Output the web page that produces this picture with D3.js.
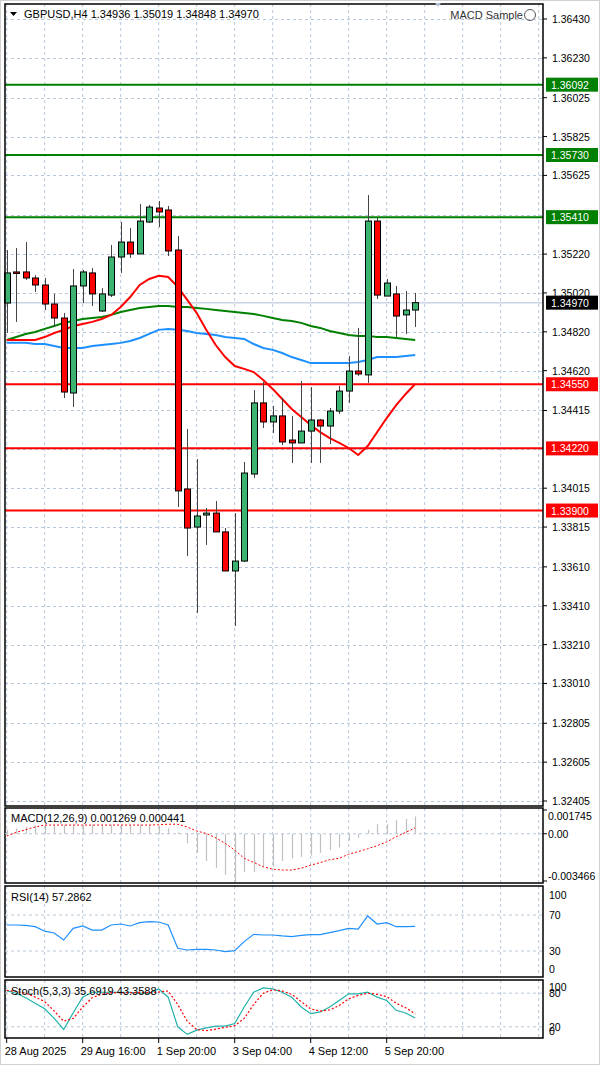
<!DOCTYPE html>
<html><head><meta charset="utf-8">
<script src="https://cdn.jsdelivr.net/npm/d3@7"></script>
<style>body{margin:0;background:#fff}svg{display:block;font-family:"Liberation Sans",Arial,sans-serif}</style>
</head><body><svg id="c" width="600" height="1065"></svg>
<script>
const opens =[1.34968,1.35128,1.35128,1.35097,1.35061,1.34963,1.34891,1.34505,1.35056,1.35123,1.34927,1.35009,1.35205,1.35282,1.35221,1.35385,1.35457,1.35447,1.35241,1.34011,1.33815,1.33877,1.33887,1.33790,1.33589,1.33640,1.34088,1.34454,1.34356,1.34387,1.34263,1.34248,1.34309,1.34366,1.34335,1.34412,1.34515,1.34618,1.34598,1.35390,1.35004,1.35015,1.34907,1.34932];
const highs =[1.35241,1.35251,1.35282,1.35112,1.35097,1.35015,1.34917,1.35143,1.35138,1.35148,1.35045,1.35267,1.35385,1.35354,1.35478,1.35473,1.35493,1.35468,1.35313,1.34320,1.34165,1.33913,1.33949,1.33810,1.33887,1.34150,1.34520,1.34562,1.34438,1.34479,1.34387,1.34567,1.34536,1.34371,1.34428,1.34541,1.34695,1.34840,1.35524,1.35406,1.35092,1.35056,1.35030,1.35020];
const lows  =[1.34814,1.34871,1.35087,1.35025,1.34932,1.34845,1.34479,1.34433,1.34968,1.34953,1.34922,1.34999,1.35123,1.35200,1.35221,1.35380,1.35359,1.35210,1.33918,1.33666,1.33373,1.33723,1.33790,1.33589,1.33306,1.33635,1.34068,1.34325,1.34299,1.34237,1.34145,1.34248,1.34145,1.34145,1.34242,1.34397,1.34454,1.34593,1.34557,1.34989,1.35004,1.34793,1.34809,1.34845];
const closes=[1.35123,1.35123,1.35097,1.35061,1.34963,1.34891,1.34510,1.35056,1.35128,1.35015,1.35015,1.35205,1.35282,1.35221,1.35390,1.35462,1.35437,1.35236,1.34001,1.33810,1.33872,1.33887,1.33790,1.33589,1.33640,1.34093,1.34454,1.34356,1.34387,1.34253,1.34248,1.34309,1.34366,1.34335,1.34412,1.34515,1.34618,1.34603,1.35390,1.35009,1.35071,1.34901,1.34932,1.34970];
const maFast=[1.34778,1.34778,1.34778,1.34778,1.34793,1.34814,1.34830,1.34850,1.34860,1.34871,1.34886,1.34907,1.34948,1.34999,1.35061,1.35092,1.35108,1.35102,1.35051,1.34984,1.34917,1.34830,1.34752,1.34690,1.34644,1.34629,1.34613,1.34572,1.34526,1.34474,1.34423,1.34381,1.34340,1.34304,1.34273,1.34248,1.34222,1.34186,1.34232,1.34304,1.34376,1.34443,1.34500,1.34551];
const maSlow=[1.34778,1.34793,1.34809,1.34819,1.34835,1.34850,1.34866,1.34876,1.34886,1.34891,1.34896,1.34907,1.34922,1.34932,1.34943,1.34948,1.34953,1.34953,1.34948,1.34948,1.34943,1.34938,1.34932,1.34927,1.34922,1.34917,1.34912,1.34902,1.34891,1.34881,1.34876,1.34866,1.34850,1.34840,1.34824,1.34814,1.34804,1.34799,1.34799,1.34793,1.34793,1.34788,1.34783,1.34778];
const maMid=[1.34763,1.34763,1.34763,1.34757,1.34757,1.34747,1.34737,1.34737,1.34737,1.34747,1.34752,1.34757,1.34763,1.34773,1.34788,1.34809,1.34830,1.34835,1.34830,1.34824,1.34814,1.34809,1.34804,1.34793,1.34788,1.34783,1.34757,1.34737,1.34727,1.34711,1.34690,1.34675,1.34659,1.34659,1.34659,1.34659,1.34659,1.34665,1.34675,1.34690,1.34690,1.34690,1.34696,1.34701];
const macdHist=[0.0003,0.0004,0.0005,0.0006,0.00065,0.00065,0.00065,0.00065,0.00065,0.00065,0.00065,0.00065,0.00065,0.00065,0.00065,0.00065,0.0006,0.0004,0.0001,-0.0007,-0.0014,-0.0020,-0.0025,-0.0030,-0.0035,-0.0028,-0.0028,-0.0024,-0.0024,-0.0020,-0.0018,-0.0017,-0.0016,-0.0014,-0.0012,-0.0010,-0.0005,-0.0003,0.0003,0.0007,0.0007,0.0010,0.0011,0.001269];
const macdSignal=[-0.00016,0.0001,0.0003,0.0005,0.00064,0.00064,0.00064,0.00064,0.00064,0.00064,0.00064,0.00064,0.00064,0.00064,0.00064,0.00064,0.00066,0.0007,0.0007,0.0005,0.0002,0.00003,-0.0003,-0.0007,-0.0012,-0.0018,-0.0021,-0.00242,-0.0026,-0.00266,-0.00266,-0.00253,-0.0023,-0.00212,-0.0019,-0.0018,-0.0015,-0.00131,-0.0011,-0.00087,-0.0006,-0.00021,0.0001,0.000441];
const rsi=[58.9,58.9,58.5,57,52,50,42.2,55.2,57.8,53.3,53.3,58.9,60,57.8,61.5,62.6,62.2,59,33,31.1,31.9,31.9,31.1,29.3,30.4,40.4,48.5,47.8,47.8,46.7,45.9,47.4,48.1,48.1,50.4,52.6,55.2,54.4,68.9,60,61.5,57,57,57.2862];
const stochMain=[84.7,80,72,62,52.3,35,15.3,45,72.9,81.7,81.7,81.7,81.7,81.7,80,80,87.6,72.9,20,6.5,14.1,18.2,21.2,21.2,25.9,55.3,81.7,89.4,87.6,81.7,72.9,55.3,43.5,46.5,55.3,67,78.8,78.8,81.7,72.9,67,49.4,44.7,35.6919];
const stochSignal=[85,83,80,73,65,48,30,35,55,72,78,81,81,81,81,81,82,84,60,30,15,13,16,19,22,35,60,80,86,84,78,65,52,48,50,58,70,76,80,78,74,62,54,43.3588];
const priceTicks=[1.36430,1.36230,1.36025,1.35825,1.35625,1.35420,1.35220,1.35020,1.34820,1.34620,1.34415,1.34215,1.34015,1.33815,1.33610,1.33410,1.33210,1.33010,1.32805,1.32605,1.32405];
const hiddenTicks=[1.35420,1.34215];
const resistLevels=[1.36092,1.35730,1.35410];
const supportLevels=[1.34550,1.34220,1.33900];
const timeLabels=["28 Aug 2025","29 Aug 16:00","1 Sep 20:00","3 Sep 04:00","4 Sep 12:00","5 Sep 20:00"];
const timeLabelIdx=[0,8,16,24,32,40];
const title="GBPUSD,H4  1.34936 1.35019 1.34848 1.34970";

const svg=d3.select("#c");
const L=5,R=543;
const x=d3.scaleLinear().domain([0,1]).range([6.7,16.2]);
const y=d3.scaleLinear().domain([1.32405,1.36430]).range([801,19]);
const GRID="#b8c8dc";
const FS=11;
svg.append("rect").attr("x",0.5).attr("y",0.5).attr("width",599).attr("height",1064).attr("fill","#fff").attr("stroke","#d0d0d0");
const panels=[{t:4,b:806},{t:808,b:883},{t:886,b:977},{t:980,b:1038}];
const vIdx=d3.range(0,57,4);
panels.forEach(p=>{
  svg.append("g").selectAll("line").data(vIdx).join("line")
   .attr("x1",d=>x(d)).attr("x2",d=>x(d)).attr("y1",p.t).attr("y2",p.b)
   .attr("stroke",GRID).attr("stroke-dasharray","3,3");
});
svg.append("g").selectAll("line").data(priceTicks).join("line")
 .attr("x1",L).attr("x2",R).attr("y1",d=>Math.round(y(d))+0.5).attr("y2",d=>Math.round(y(d))+0.5)
 .attr("stroke",GRID).attr("stroke-dasharray","3,3");
svg.append("line").attr("x1",L).attr("x2",R).attr("y1",y(closes[43])).attr("y2",y(closes[43])).attr("stroke","#c8d4e4").attr("stroke-width",1.5);
const line=d3.line().x((d,i)=>x(i)).y(d=>y(d));
svg.append("path").attr("d",line(maSlow)).attr("fill","none").attr("stroke","#008000").attr("stroke-width",2);
svg.append("path").attr("d",line(maMid)).attr("fill","none").attr("stroke","#1e90ff").attr("stroke-width",2);
svg.append("path").attr("d",line(maFast)).attr("fill","none").attr("stroke","#ff0000").attr("stroke-width",2);
resistLevels.forEach(v=>svg.append("line").attr("x1",L).attr("x2",R).attr("y1",y(v)).attr("y2",y(v)).attr("stroke","#008000").attr("stroke-width",2));
supportLevels.forEach(v=>svg.append("line").attr("x1",L).attr("x2",R).attr("y1",y(v)).attr("y2",y(v)).attr("stroke","#ff0000").attr("stroke-width",2));
const idx=d3.range(opens.length);
const cg=svg.append("g");
cg.selectAll("line").data(idx).join("line")
 .attr("x1",i=>Math.round(x(i))+0.5).attr("x2",i=>Math.round(x(i))+0.5)
 .attr("y1",i=>y(highs[i])).attr("y2",i=>y(lows[i])).attr("stroke","#444").attr("stroke-width",1);
cg.selectAll("rect").data(idx).join("rect")
 .attr("x",i=>Math.round(x(i))-2.5).attr("width",6)
 .attr("y",i=>y(Math.max(opens[i],closes[i])))
 .attr("height",i=>Math.max(1.5,Math.abs(y(opens[i])-y(closes[i]))))
 .attr("fill",i=>closes[i]>=opens[i]?"#3cb371":"#ff0000").attr("stroke","#000").attr("stroke-width",1);
const ax=svg.append("g").attr("font-size",10.5).attr("fill","#000");
priceTicks.filter(v=>!hiddenTicks.includes(v)).forEach(v=>{
  ax.append("line").attr("x1",R).attr("x2",R+4).attr("y1",y(v)).attr("y2",y(v)).attr("stroke","#000");
  ax.append("text").attr("x",552).attr("y",y(v)+4).text(v.toFixed(5));
});
function tag(v,col){
  svg.append("rect").attr("x",546).attr("y",y(v)-7).attr("width",52).attr("height",14).attr("fill",col);
  svg.append("text").attr("x",551).attr("y",y(v)+4).attr("font-size",10.5).attr("fill","#fff").text(v.toFixed(5));
}
resistLevels.forEach(v=>tag(v,"#008000"));
supportLevels.forEach(v=>tag(v,"#ff0000"));
tag(closes[43],"#000");
panels.forEach(p=>svg.append("rect").attr("x",L).attr("y",p.t).attr("width",R-L).attr("height",p.b-p.t).attr("fill","none").attr("stroke","#000").attr("stroke-width",1.5));
svg.append("path").attr("d","M10,12 L17,12 L13.5,16 Z").attr("fill","#000");
svg.append("text").attr("x",24).attr("y",18).attr("font-size",FS).text(title);
svg.append("text").attr("x",523).attr("y",19).attr("font-size",FS).attr("text-anchor","end").attr("fill","#333").text("MACD Sample");
svg.append("circle").attr("cx",530).attr("cy",15).attr("r",5.5).attr("fill","none").attr("stroke","#555");
svg.append("path").attr("d","M435,3 L441,3 L438,7 Z").attr("fill","#b0c0d8");
const ym=d3.scaleLinear().domain([-0.003466,0.001745]).range([881,810]);
svg.append("line").attr("x1",L).attr("x2",R).attr("y1",ym(0)).attr("y2",ym(0)).attr("stroke",GRID).attr("stroke-dasharray","3,3");
svg.append("g").selectAll("line").data(idx).join("line")
 .attr("x1",i=>Math.round(x(i))+0.5).attr("x2",i=>Math.round(x(i))+0.5)
 .attr("y1",ym(0)).attr("y2",i=>ym(macdHist[i])).attr("stroke","#c0c0c0").attr("stroke-width",1.2);
svg.append("path").attr("d",d3.line().x((d,i)=>x(i)).y(d=>ym(d))(macdSignal)).attr("fill","none").attr("stroke","#ff0000").attr("stroke-dasharray","2,2");
svg.append("text").attr("x",11).attr("y",822).attr("font-size",FS).text("MACD(12,26,9) 0.001269 0.000441");
[[0.001745,"0.001745",820],[0,"0.00",838],[-0.003466,"-0.003466",880]].forEach(([v,t,yy])=>{
  svg.append("line").attr("x1",R).attr("x2",R+4).attr("y1",ym(v)).attr("y2",ym(v)).attr("stroke","#000");
  svg.append("text").attr("x",548).attr("y",yy).attr("font-size",10.5).text(t);
});
const yr=d3.scaleLinear().domain([0,100]).range([978,888]);
[70,30].forEach(v=>svg.append("line").attr("x1",L).attr("x2",R).attr("y1",yr(v)).attr("y2",yr(v)).attr("stroke",GRID).attr("stroke-dasharray","3,3"));
svg.append("path").attr("d",d3.line().x((d,i)=>x(i)).y(d=>yr(d))(rsi)).attr("fill","none").attr("stroke","#1e90ff").attr("stroke-width",1.2);
svg.append("text").attr("x",11).attr("y",901).attr("font-size",FS).text("RSI(14) 57.2862");
[[100,899],[70,919],[30,955],[0,973]].forEach(([v,yy])=>{
  svg.append("text").attr("x",549).attr("y",yy).attr("font-size",10.5).text(v);
});
const ys=d3.scaleLinear().domain([0,100]).range([1038,982]);
[80,20].forEach(v=>svg.append("line").attr("x1",L).attr("x2",R).attr("y1",ys(v)).attr("y2",ys(v)).attr("stroke",GRID).attr("stroke-dasharray","3,3"));
svg.append("path").attr("d",d3.line().x((d,i)=>x(i)).y(d=>ys(d))(stochMain)).attr("fill","none").attr("stroke","#20b2aa").attr("stroke-width",1.2);
svg.append("path").attr("d",d3.line().x((d,i)=>x(i)).y(d=>ys(d))(stochSignal)).attr("fill","none").attr("stroke","#ff0000").attr("stroke-dasharray","2,2").attr("stroke-width",1.2);
svg.append("text").attr("x",11).attr("y",995).attr("font-size",FS).text("Stoch(5,3,3) 35.6919 43.3588");
[[100,991],[80,997],[20,1031],[0,1035]].forEach(([v,yy])=>{
  svg.append("text").attr("x",549).attr("y",yy).attr("font-size",10.5).text(v);
});
timeLabelIdx.forEach((k,j)=>{
  svg.append("line").attr("x1",x(k)).attr("x2",x(k)).attr("y1",1038).attr("y2",1043).attr("stroke","#000");
  svg.append("text").attr("x",x(k)-2).attr("y",1055).attr("font-size",FS).text(timeLabels[j]);
});
</script></body></html>
